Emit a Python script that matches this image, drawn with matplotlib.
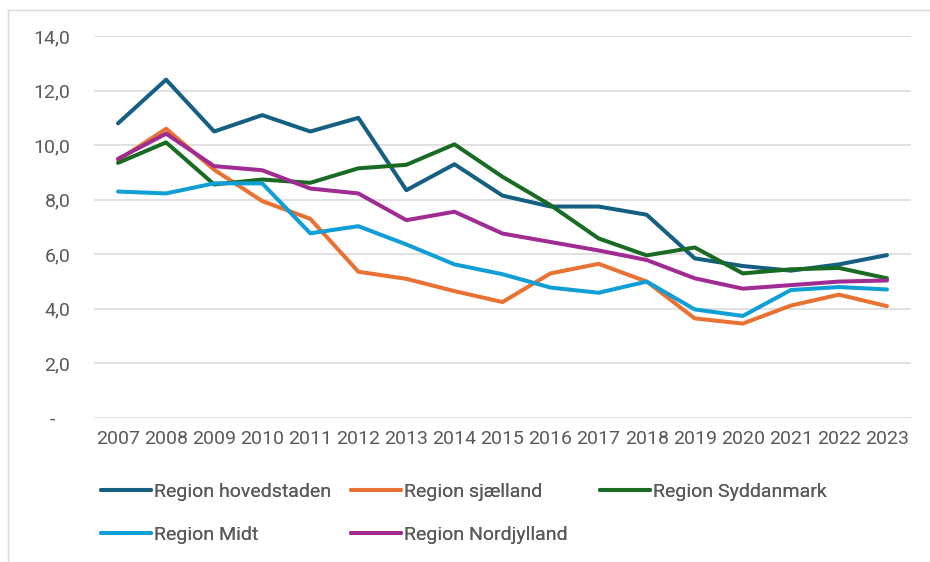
import matplotlib
matplotlib.use('Agg')
import matplotlib.pyplot as plt
from matplotlib.lines import Line2D
from matplotlib.ticker import FuncFormatter

plt.rcParams['font.family'] = ['Roboto', 'DejaVu Sans']

# Data
years = ['2007', '2008', '2009', '2010', '2011', '2012', '2013', '2014', '2015',
         '2016', '2017', '2018', '2019', '2020', '2021', '2022', '2023']
hovedstaden = [10.8, 12.4, 10.5, 11.1, 10.5, 11.0, 8.35, 9.3, 8.15,
               7.75, 7.75, 7.45, 5.85, 5.57, 5.4, 5.63, 5.97]
sjaelland = [9.45, 10.6, 9.1, 7.95, 7.3, 5.36, 5.1, 4.65, 4.25,
             5.3, 5.65, 5.0, 3.65, 3.46, 4.12, 4.52, 4.1]
syddanmark = [9.35, 10.1, 8.56, 8.74, 8.62, 9.15, 9.28, 10.03, 8.84,
              7.8, 6.58, 5.96, 6.25, 5.3, 5.45, 5.5, 5.12]
midt = [8.3, 8.23, 8.6, 8.6, 6.77, 7.03, 6.36, 5.63, 5.27,
        4.78, 4.59, 5.0, 3.98, 3.74, 4.69, 4.8, 4.71]
nordjylland = [9.5, 10.42, 9.23, 9.08, 8.41, 8.23, 7.25, 7.56, 6.76,
               6.45, 6.14, 5.79, 5.12, 4.74, 4.87, 5.0, 5.04]

series = [
    ('Region hovedstaden', hovedstaden, '#156082'),
    ('Region sjælland', sjaelland, '#E97132'),
    ('Region Syddanmark', syddanmark, '#196B24'),
    ('Region Midt', midt, '#0F9ED5'),
    ('Region Nordjylland', nordjylland, '#A02B93'),
]

W, H = 930, 562
fig = plt.figure(figsize=(W / 100, H / 100), dpi=100)
ax = fig.add_axes([94 / W, 1 - 418 / H, (911 - 94) / W, (418 - 36) / H])

x = list(range(len(years)))
lines = []
for name, vals, col in series:
    ln, = ax.plot(x, vals, color=col, lw=2.9, solid_capstyle='round',
                  solid_joinstyle='round', label=name)
    lines.append(ln)

ax.set_xlim(-0.5, len(years) - 0.5)
ax.set_ylim(0, 14)
ax.set_yticks([0, 2, 4, 6, 8, 10, 12, 14])
ax.yaxis.set_major_formatter(FuncFormatter(
    lambda v, p: '-   ' if v == 0 else f'{v:.1f}'.replace('.', ',')))
ax.set_xticks(x)
ax.set_xticklabels(years)

ax.grid(axis='y', color='#D9D9D9', lw=1.1)
ax.set_axisbelow(True)
for s in ax.spines.values():
    s.set_visible(False)
ax.tick_params(axis='both', length=0, labelsize=14, colors='#595959')
ax.tick_params(axis='y', pad=17)
ax.tick_params(axis='x', pad=9)

# Legend: three columns placed like the original
col_x = [101, 351, 600]
for c in range(3):
    hs = [lines[i] for i in (c, c + 3) if i < len(lines)]
    leg = fig.legend(handles=hs, loc='upper left',
                     bbox_to_anchor=(col_x[c] / W, 1 - 483 / H),
                     frameon=False, fontsize=14, labelcolor='#595959',
                     handlelength=2.55, handletextpad=0.2, labelspacing=1.26,
                     borderpad=0, borderaxespad=0)
    fig.add_artist(leg)

# Chart border (top and left edges visible)
fig.add_artist(Line2D([8 / W, 1], [1 - 10 / H, 1 - 10 / H], color='#D9D9D9', lw=1))
fig.add_artist(Line2D([8 / W, 8 / W], [0, 1 - 10 / H], color='#D9D9D9', lw=1))

fig.savefig('out.png', dpi=100, facecolor='white')
